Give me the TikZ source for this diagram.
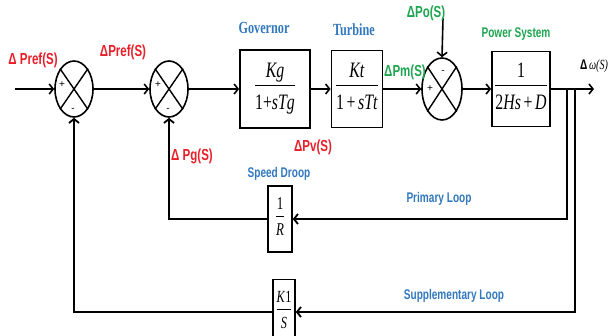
\documentclass[tikz,border=0pt]{standalone}
\usepackage{fontspec}
\setmainfont{Liberation Serif}
\setsansfont{Liberation Sans}
\usepackage{graphicx}
\usetikzlibrary{shapes.geometric,arrows.meta,positioning}
\definecolor{lossRed}{RGB}{232,30,40}
\definecolor{loopBlue}{RGB}{50,120,190}
\definecolor{sysGreen}{RGB}{30,165,80}
\newcommand{\squeeze}[1]{\scalebox{0.72}[1]{#1}}
\newcommand{\tfbox}[2]{\begin{tabular}{@{}c@{}}#1\\[1pt]\hline\rule{0pt}{1.1em}#2\end{tabular}}

\begin{document}
\begin{tikzpicture}[x=1pt, y=-1pt,
  sumnode/.style={draw, ellipse, line width=1.6pt, minimum width=38pt, minimum height=56pt, inner sep=0pt},
  block/.style={draw, line width=1.8pt, inner sep=0pt, font=\fontsize{22}{22}\selectfont},
  sig/.style={-{Straight Barb[length=4pt,width=10pt]}, line width=1.6pt},
  dlabel/.style={font=\sffamily\bfseries\fontsize{16}{16}\selectfont, inner sep=0pt},
  loopname/.style={text=loopBlue, font=\sffamily\bfseries\fontsize{14}{14}\selectfont, inner sep=0pt},
  sign/.style={font=\sffamily\fontsize{10}{10}\selectfont, inner sep=0pt}]
  \useasboundingbox (0,0) rectangle (613,335);
  % Summing junctions
  \node[sumnode] (s1) at (74,89) {};
  \node[sumnode] (s2) at (169,89) {};
  \node[sumnode, minimum width=40pt, minimum height=62pt] (s3) at (442,89) {};
  \foreach \s in {s1,s2,s3}
    \draw[line width=1.4pt] (\s.north west) -- (\s.south east) (\s.north east) -- (\s.south west);
  \node[sign] (s1p) at (62,85) {+};
  \node[sign] (s1m) at (73,110) {-};
  \node[sign] (s2p) at (158,85) {+};
  \node[sign] (s2m) at (168,110) {-};
  \node[sign] (s3p) at (430,89) {+};
  \node[sign] (s3m) at (443,72) {-};
  % Blocks
  \node[block, minimum width=70pt, minimum height=78pt] (gov) at (275,89)
    {\squeeze{\tfbox{\textit{Kg}}{1+\textit{sTg}}}};
  \node[block, minimum width=51pt, minimum height=77pt] (tur) at (357,89)
    {\squeeze{\tfbox{\textit{Kt}}{1\,+\,\textit{sTt}}}};
  \node[block, minimum width=58pt, minimum height=75pt] (ps) at (521,89)
    {\squeeze{\tfbox{1}{2\textit{Hs}\,+\,\textit{D}}}};
  \node[block, font=\fontsize{18}{18}\selectfont, line width=1.6pt, minimum width=24pt, minimum height=66pt]
    (rbox) at (280,219) {\squeeze{\tfbox{1}{\textit{R}}}};
  \node[block, font=\fontsize{17}{17}\selectfont, line width=1.6pt, minimum width=22pt, minimum height=65pt]
    (kbox) at (284,312) {\squeeze{\tfbox{\textit{K}1}{\textit{S}}}};
  % Free ends and branch points
  \coordinate (src) at (15,89);
  \coordinate (out) at (594,89);
  \coordinate (bp) at (567,89);
  \coordinate (bs) at (575,89);
  \coordinate (po) at (443,18);
  % Forward path
  \draw[sig] (src) -- (s1.west);
  \draw[sig] (s1.east) -- (s2.west);
  \draw[sig] (s2.east) -- (gov.west);
  \draw[sig] (gov.east) -- (tur.west);
  \draw[sig] (tur.east) -- (s3.west);
  \draw[sig] (s3.east) -- (ps.west);
  \draw[sig] (ps.east) -- (out);
  \draw[sig] (po) -- (s3.north);
  % Feedback loops
  \draw[sig, line width=1.8pt] (bp) |- (rbox.east);
  \draw[sig, line width=1.8pt] (rbox.west) -| (s2.south);
  \draw[sig, line width=1.8pt] (bs) |- (kbox.east);
  \draw[sig, line width=1.8pt] (kbox.west) -| (s1.south);
  % Signal labels
  \node[dlabel, text=lossRed] (lref1) at (33,60) {\squeeze{Δ Pref(S)}};
  \node[dlabel, text=lossRed] (lref2) at (123,52) {\squeeze{ΔPref(S)}};
  \node[dlabel, text=lossRed] (lpg) at (192,156) {\squeeze{Δ Pg(S)}};
  \node[dlabel, text=lossRed] (lpv) at (313,147) {\squeeze{ΔPv(S)}};
  \node[dlabel, text=sysGreen] (lpo) at (426,13) {\squeeze{ΔPo(S)}};
  \node[dlabel, text=sysGreen] (lpm) at (405,72) {\squeeze{ΔPm(S)}};
  \node[dlabel, font=\sffamily\bfseries\fontsize{14}{14}\selectfont] (lw) at (594,66)
    {\squeeze{Δ\,\rmfamily\mdseries\itshape ω(S)}};
  % Block titles
  \node[text=loopBlue, inner sep=0pt, font=\rmfamily\bfseries\fontsize{17}{17}\selectfont] (tgov) at (264,28) {\squeeze{Governor}};
  \node[text=loopBlue, inner sep=0pt, font=\rmfamily\bfseries\fontsize{17}{17}\selectfont] (ttur) at (354,30) {\squeeze{Turbine}};
  \node[text=sysGreen, inner sep=0pt, font=\sffamily\bfseries\fontsize{14}{14}\selectfont] (tps) at (516,34) {\squeeze{Power System}};
  \node[loopname] (tdroop) at (279,174) {\squeeze{Speed Droop}};
  \node[loopname] (tprim) at (439,199) {\squeeze{Primary Loop}};
  \node[loopname] (tsupp) at (454,296) {\squeeze{Supplementary Loop}};
\end{tikzpicture}
\end{document}
